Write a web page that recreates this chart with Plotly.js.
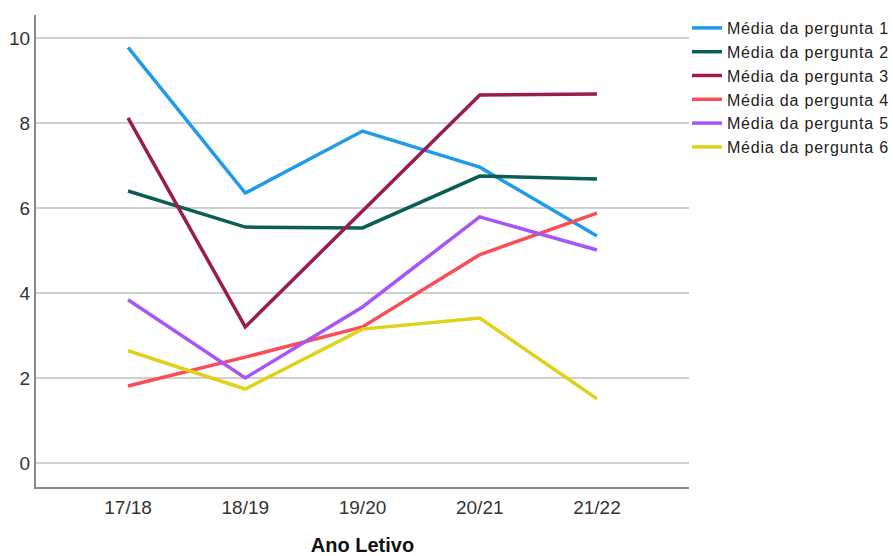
<!DOCTYPE html>
<html>
<head>
<meta charset="utf-8">
<script src="https://cdn.plot.ly/plotly-3.0.1.min.js"></script>
<style>html,body{margin:0;padding:0;background:#fff;}#chart{width:893px;height:556px;}
.legendtext{letter-spacing:0.8px;}</style>
</head>
<body>
<div id="chart"></div>
<script>
const categories = ["17/18", "18/19", "19/20", "20/21", "21/22"];
const seriesNames = ["Média da pergunta 1", "Média da pergunta 2", "Média da pergunta 3", "Média da pergunta 4", "Média da pergunta 5", "Média da pergunta 6"];
const pergunta1 = [9.78, 6.35, 7.81, 6.96, 5.34];
const pergunta2 = [6.40, 5.55, 5.53, 6.75, 6.68];
const pergunta3 = [8.12, 3.20, 5.93, 8.66, 8.68];
const pergunta4 = [1.81, 2.49, 3.20, 4.90, 5.88];
const pergunta5 = [3.84, 2.00, 3.67, 5.79, 5.01];
const pergunta6 = [2.64, 1.74, 3.15, 3.41, 1.51];
const seriesValues = [pergunta1, pergunta2, pergunta3, pergunta4, pergunta5, pergunta6];
const colors = ["#1F9BEA", "#0B5E56", "#9C1B4E", "#FA4D56", "#A855F7", "#E0D21A"];

const traces = seriesValues.map((vals, i) => ({
  type: "scatter",
  mode: "lines",
  x: categories,
  y: vals,
  name: seriesNames[i],
  legendgroup: "g" + i,
  line: {color: colors[i], width: 3.5}
}));

const layout = {
  width: 893,
  height: 556,
  margin: {l: 36, r: 204, t: 15, b: 69, autoexpand: false},
  paper_bgcolor: "#fff",
  plot_bgcolor: "#fff",
  font: {family: "Liberation Sans, Arial, sans-serif", color: "#333", size: 19},
  showlegend: true,
  legend: {
    xref: "paper", yref: "paper",
    x: 0.9969, xanchor: "left", y: 1.0085, yanchor: "top",
    font: {size: 16, color: "#222"},
    traceorder: "grouped",
    tracegroupgap: 0,
    itemwidth: 30,
    bgcolor: "rgba(0,0,0,0)"
  },
  xaxis: {
    type: "category",
    range: [-0.785, 4.785],
    showgrid: false,
    zeroline: false,
    showline: true,
    linecolor: "#888",
    linewidth: 2,
    ticks: "",
    ticklabelstandoff: 2,
    tickfont: {size: 19, color: "#333"},
    title: {text: "<b>Ano Letivo</b>", font: {size: 20, color: "#111"}, standoff: 22}
  },
  yaxis: {
    range: [-0.565, 10.54],
    tickvals: [0, 2, 4, 6, 8, 10],
    showgrid: true,
    gridcolor: "#d0d0d0",
    gridwidth: 1.5,
    zeroline: false,
    showline: true,
    linecolor: "#888",
    linewidth: 2,
    ticks: "",
    tickfont: {size: 19, color: "#333"}
  }
};

Plotly.newPlot("chart", traces, layout, {displayModeBar: false, staticPlot: true});
</script>
</body>
</html>
